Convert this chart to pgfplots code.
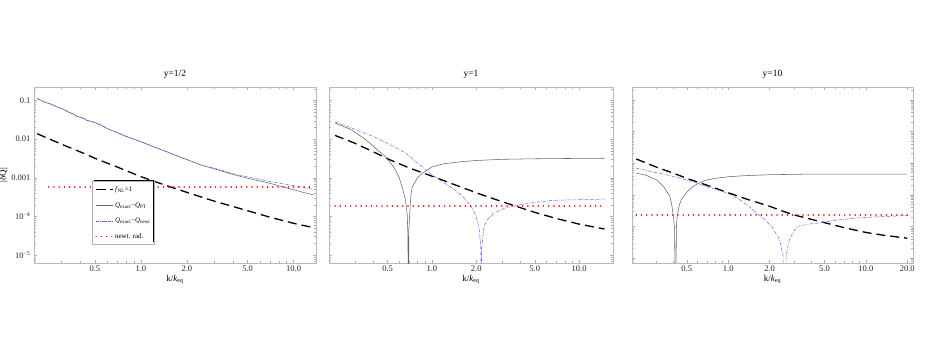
\documentclass[border=0pt]{standalone}
\usepackage{fontspec}
\setmainfont{Liberation Serif}
\usepackage{pgfplots}
\pgfplotsset{compat=1.18}

\pgfplotsset{
  every axis/.append style={
    scale only axis, height=176pt,
    axis line style={gray!55}, tick style={gray!65, line width=0.4pt},
    major tick length=3pt, minor tick length=1.6pt,
    tick label style={font=\fontsize{8.5}{9}\selectfont, text=black!85},
    xticklabel style={yshift=1pt},
    label style={font=\fontsize{9}{10}\selectfont},
    xlabel style={yshift=3pt},
    title style={font=\fontsize{9.5}{10}\selectfont, yshift=-1pt},
  },
  fnl/.style={black, line width=1.3pt, dash pattern=on 9pt off 5pt},
  ptc/.style={black!60, line width=0.55pt},
  newt/.style={color={rgb,255:red,95;green,95;blue,245}, line width=0.5pt, dash pattern=on 3pt off 1.2pt on 0.6pt off 1.2pt},
  rad/.style={red, line width=1.7pt, line cap=round, dash pattern=on 0.01pt off 5.2pt},
}

\begin{document}
\begin{tikzpicture}
\path[use as bounding box] (0pt,0pt) rectangle (946pt,353pt);

% ---------------- panel 1: y = 1/2
\begin{axis}[xmode=log, ymode=log, at={(34pt,90pt)}, anchor=south west, width=282pt,
  xmin=0.2, xmax=14, ymin=6.2e-6, ymax=0.224,
  xtick={0.5,1,2,5,10}, xticklabels={0.5,1.0,2.0,5.0,10.0},
  minor xtick={0.2,0.3,0.4,0.6,0.7,0.8,0.9,3,4,6,7,8,9},
  ytick={1e-5,1e-4,1e-3,1e-2,0.1},
  minor ytick={2e-6,3e-6,4e-6,5e-6,6e-6,7e-6,8e-6,9e-6,2e-5,3e-5,4e-5,5e-5,6e-5,7e-5,8e-5,9e-5,2e-4,3e-4,4e-4,5e-4,6e-4,7e-4,8e-4,9e-4,2e-3,3e-3,4e-3,5e-3,6e-3,7e-3,8e-3,9e-3,0.02,0.03,0.04,0.05,0.06,0.07,0.08,0.09,0.2},
  yticklabels={10\textsuperscript{−5},10\textsuperscript{−4},0.001,0.01,0.1},
  xlabel={k/\textit{k}\textsubscript{eq}},
  ylabel={|δQ|}, ylabel style={yshift=-3pt},
  title={y=1/2},
  legend cell align=left,
  legend style={at={(0.206,0.465)}, anchor=north west, draw=gray!60, fill=white,
    font=\fontsize{7}{8}\selectfont, row sep=5.7pt, inner sep=3pt,
    nodes={inner sep=1pt, text height=6pt, text depth=2pt}},
]
\addplot[fnl] coordinates {(0.21,0.0138)(0.3,0.0075)(0.4,0.0047)(0.52,0.0030)(0.7,0.0019)(1,0.00107)(1.4,0.00067)(2.03,0.00041)(3,0.00025)(4.7,0.00015)(7,0.000095)(10,0.000066)(13.5,0.000051)};
\addlegendentry{\textit{f}\textsubscript{NL}=1}
\addplot[ptc] coordinates {(0.21,0.112)(0.24,0.088)(0.26,0.080)(0.29,0.065)(0.31,0.060)(0.33,0.052)(0.36,0.045)(0.38,0.039)(0.42,0.035)(0.44,0.031)(0.5,0.027)(0.55,0.023)(0.6,0.019)(0.7,0.0148)(0.8,0.0118)(0.9,0.0100)(1,0.0086)(1.15,0.0069)(1.3,0.0057)(1.5,0.0046)(1.75,0.0036)(2.03,0.0029)(2.5,0.0021)(3,0.00172)(4,0.00122)(5,0.00097)(6.8,0.00074)(8.5,0.00058)(10,0.00049)(11.5,0.00042)(13.5,0.00036)};
\addlegendentry{\textit{Q}\textsubscript{exact}−\textit{Q}\textsubscript{PT}}
\addplot[newt] coordinates {(0.21,0.112)(0.24,0.088)(0.26,0.080)(0.29,0.065)(0.31,0.060)(0.33,0.052)(0.36,0.045)(0.38,0.039)(0.42,0.035)(0.44,0.031)(0.5,0.027)(0.55,0.023)(0.6,0.019)(0.7,0.0148)(0.8,0.0118)(0.9,0.0100)(1,0.0086)(1.15,0.0069)(1.3,0.0057)(1.5,0.0046)(1.75,0.0036)(2.03,0.0029)(2.5,0.0021)(3,0.0018)(4,0.00128)(5,0.00105)(6.8,0.00082)(8.5,0.00070)(10,0.00062)(11.5,0.00056)(13.5,0.00050)};
\addlegendentry{\textit{Q}\textsubscript{exact}−\textit{Q}\textsubscript{newt}}
\addplot[rad] coordinates {(0.25,5.7e-4)(13.5,5.7e-4)};
\addlegendentry{newt. rad.}
\end{axis}
% legend shadow (top and right edges)
\draw[black, line width=1.5pt] (93.5pt,172.55pt) -- (153.3pt,172.55pt) -- (153.3pt,110.6pt);

% ---------------- panel 2: y = 1
\begin{axis}[xmode=log, ymode=log, at={(329pt,90pt)}, anchor=south west, width=284pt,
  xmin=0.2, xmax=17, ymin=6.2e-6, ymax=0.224,
  xtick={0.5,1,2,5,10}, xticklabels={0.5,1.0,2.0,5.0,10.0},
  minor xtick={0.2,0.3,0.4,0.6,0.7,0.8,0.9,3,4,6,7,8,9},
  ytick={1e-5,1e-4,1e-3,1e-2,0.1},
  minor ytick={2e-6,3e-6,4e-6,5e-6,6e-6,7e-6,8e-6,9e-6,2e-5,3e-5,4e-5,5e-5,6e-5,7e-5,8e-5,9e-5,2e-4,3e-4,4e-4,5e-4,6e-4,7e-4,8e-4,9e-4,2e-3,3e-3,4e-3,5e-3,6e-3,7e-3,8e-3,9e-3,0.02,0.03,0.04,0.05,0.06,0.07,0.08,0.09,0.2},
  yticklabels={},
  xlabel={k/\textit{k}\textsubscript{eq}},
  title={y=1},
]
\addplot[fnl] coordinates {(0.22,0.0125)(0.3,0.0078)(0.4,0.0047)(0.51,0.0030)(0.7,0.0018)(1,0.0011)(1.4,0.00068)(2.15,0.00037)(3,0.00024)(4.9,0.00013)(7,0.000088)(10,0.000063)(14.9,0.000047)};
\addplot[ptc] coordinates {(0.22,0.026)(0.26,0.020)(0.28,0.018)(0.3,0.015)(0.34,0.011)(0.37,0.0085)(0.4,0.0065)(0.44,0.0048)(0.48,0.0036)(0.52,0.0025)(0.555,0.0018)(0.6,0.0010)(0.63,0.00055)(0.66,0.00028)(0.68,0.00011)(0.688,0.00003)(0.692,1e-8)(0.697,0.00004)(0.706,0.00011)(0.72,0.00035)(0.736,0.00059)(0.8,0.0010)(0.86,0.0013)(1,0.0019)(1.2,0.0023)(1.58,0.0026)(2,0.0028)(3,0.0030)(5,0.0031)(8,0.00315)(14.9,0.0032)};
\addplot[newt] coordinates {(0.22,0.028)(0.3,0.018)(0.4,0.0117)(0.5,0.0078)(0.66,0.0044)(0.8,0.0024)(1,0.0012)(1.2,0.00075)(1.43,0.00049)(1.65,0.00030)(1.85,0.00018)(2.0,0.00010)(2.1,0.000045)(2.15,0.000015)(2.165,1e-8)(2.18,0.000015)(2.26,0.000055)(2.4,0.000085)(2.64,0.00012)(3.2,0.00017)(4,0.0002)(5,0.00023)(6.6,0.00026)(10,0.00027)(14.9,0.00028)};
\addplot[rad] coordinates {(0.22,1.87e-4)(14.9,1.87e-4)};
\end{axis}

% ---------------- panel 3: y = 10
\begin{axis}[xmode=log, ymode=log, at={(632pt,90pt)}, anchor=south west, width=281pt,
  xmin=0.2, xmax=22, ymin=6.9e-6, ymax=2.57,
  xtick={0.5,1,2,5,10,20}, xticklabels={0.5,1.0,2.0,5.0,10.0,20.0},
  minor xtick={0.2,0.3,0.4,0.6,0.7,0.8,0.9,3,4,6,7,8,9},
  ytick={1e-5,1e-4,1e-3,1e-2,0.1,1},
  minor ytick={7e-6,8e-6,9e-6,2e-5,3e-5,4e-5,5e-5,6e-5,7e-5,8e-5,9e-5,2e-4,3e-4,4e-4,5e-4,6e-4,7e-4,8e-4,9e-4,2e-3,3e-3,4e-3,5e-3,6e-3,7e-3,8e-3,9e-3,0.02,0.03,0.04,0.05,0.06,0.07,0.08,0.09,0.2,0.3,0.4,0.5,0.6,0.7,0.8,0.9,2},
  yticklabels={},
  xlabel={k/\textit{k}\textsubscript{eq}},
  title={y=10},
]
\addplot[fnl] coordinates {(0.215,0.0135)(0.3,0.0075)(0.4,0.0048)(0.52,0.0031)(0.7,0.0020)(1,0.00115)(1.4,0.00070)(2.03,0.00042)(2.5,0.00030)(3,0.00023)(4.7,0.00014)(7,0.000090)(10,0.000064)(13.5,0.000052)(20,0.000042)};
\addplot[ptc] coordinates {(0.215,0.0048)(0.25,0.0042)(0.3,0.0030)(0.34,0.0018)(0.377,0.00088)(0.39,0.00045)(0.40,0.0002)(0.408,0.00008)(0.414,1e-8)(0.42,0.00009)(0.425,0.0002)(0.44,0.00045)(0.456,0.00069)(0.5,0.0012)(0.553,0.0018)(0.62,0.0024)(0.69,0.0029)(0.8,0.0033)(1,0.0037)(1.3,0.0040)(2,0.0043)(4,0.0045)(8,0.0045)(20,0.0045)};
\addplot[newt] coordinates {(0.215,0.0069)(0.3,0.0050)(0.4,0.0038)(0.55,0.0026)(0.69,0.0018)(0.85,0.0014)(1,0.0011)(1.2,0.00072)(1.41,0.00043)(1.6,0.00027)(1.85,0.00016)(2.1,0.00009)(2.36,0.000038)(2.5,0.000012)(2.57,1e-8)(2.64,0.000012)(2.78,0.000038)(3.0,0.00007)(3.2,0.0001)(4,0.00012)(4.7,0.00013)(6,0.000155)(8.1,0.00018)(12,0.0002)(20,0.00022)};
\addplot[rad] coordinates {(0.215,2.3e-4)(20,2.3e-4)};
\end{axis}
\end{tikzpicture}
\end{document}
